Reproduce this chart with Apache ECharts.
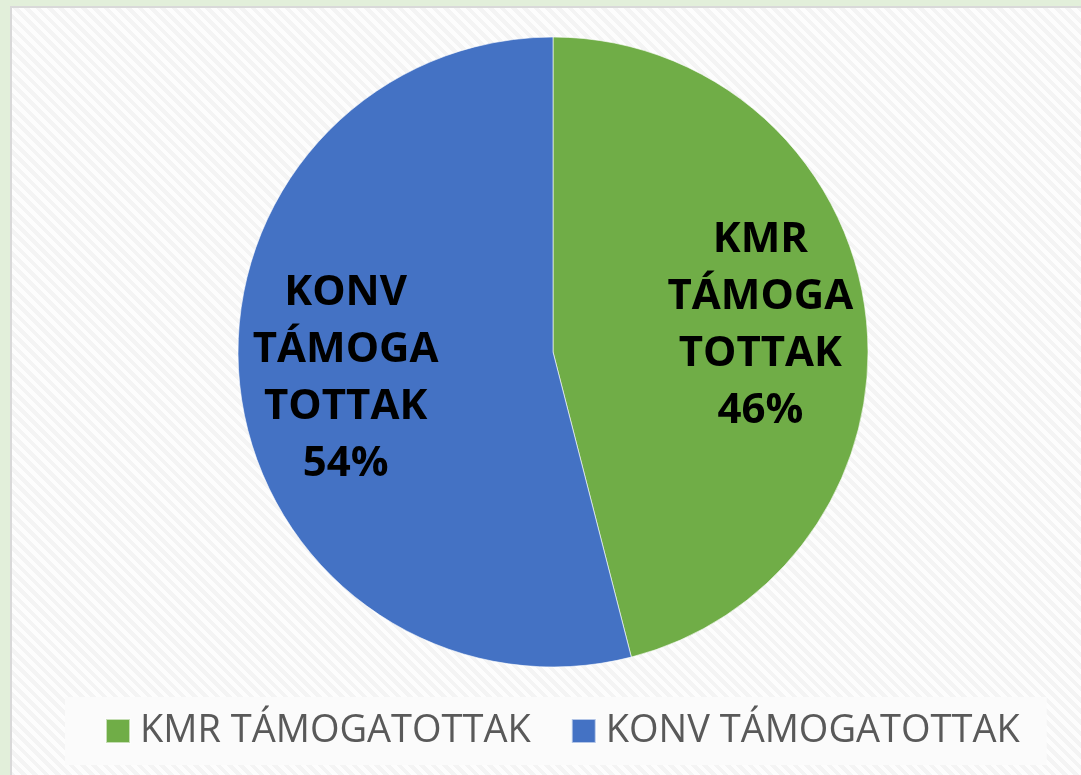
<!DOCTYPE html>
<html>
<head>
<meta charset="utf-8">
<script src="https://cdn.jsdelivr.net/npm/echarts@6/dist/echarts.min.js"></script>
<style>
    html, body {
        margin: 0;
        padding: 0;
        width: 1081px;
        height: 775px;
        overflow: hidden;
        background: #e2efda;
    }
    #main {
        position: absolute;
        left: 10px;
        top: 6px;
        width: 1080px;
        height: 780px;
        border-left: 2px solid #d9d9d9;
        border-top: 2px solid #d9d9d9;
        background: repeating-linear-gradient(45deg, #f4f4f4 0px, #f4f4f4 4px, #fdfdfd 4px, #fdfdfd 8px);
    }
</style>
</head>
<body>
<div id="main"></div>
<script>
// adatok
const categories = ['KMR TÁMOGATOTTAK', 'KONV TÁMOGATOTTAK']
const sliceLabels = ['KMR\nTÁMOGA\nTOTTAK', 'KONV\nTÁMOGA\nTOTTAK']
const values = [46, 54]
const colors = ['#70ad47', '#4472c4']

const chart = echarts.init(document.getElementById('main'))

// a div 12px-el el van tolva balra, 8px-el lefelé
const cx = 553 - 12
const cy = 352 - 8

const option = {
    animation: false,
    color: colors,
    legend: {
        data: categories,
        left: 65 - 12,
        top: 697 - 8,
        icon: 'rect',
        itemWidth: 24,
        itemHeight: 24,
        itemGap: 40,
        padding: [15, 27, 15, 40],
        backgroundColor: '#fbfbfb',
        textStyle: {
            fontFamily: 'Open Sans',
            fontSize: 38,
            color: '#595959',
            padding: [0, 0, 0, 5]
        }
    },
    series: [
        {
            type: 'pie',
            center: [cx, cy],
            radius: 315,
            startAngle: 90,
            clockwise: true,
            label: { show: false },
            labelLine: { show: false },
            itemStyle: {
                borderColor: 'rgba(255,255,255,0.6)',
                borderWidth: 1
            },
            emphasis: { disabled: true },
            data: categories.map((name, i) => ({ name: name, value: values[i] }))
        },
        {
            // átlátszó gyűrű csak a feliratok helyéhez
            type: 'pie',
            silent: true,
            center: [cx, cy],
            radius: [97, 315],
            startAngle: 90,
            clockwise: true,
            percentPrecision: 0,
            itemStyle: { color: 'rgba(0,0,0,0)' },
            labelLine: { show: false },
            label: {
                show: true,
                position: 'inside',
                fontFamily: 'Open Sans',
                fontWeight: 'bold',
                fontSize: 42,
                lineHeight: 57,
                color: '#000',
                padding: [8, 0, 0, 0],
                formatter: p => sliceLabels[p.dataIndex] + '\n' + p.percent + '%'
            },
            emphasis: { disabled: true },
            data: categories.map((name, i) => ({ name: name, value: values[i] }))
        }
    ]
}

chart.setOption(option)
</script>
</body>
</html>
